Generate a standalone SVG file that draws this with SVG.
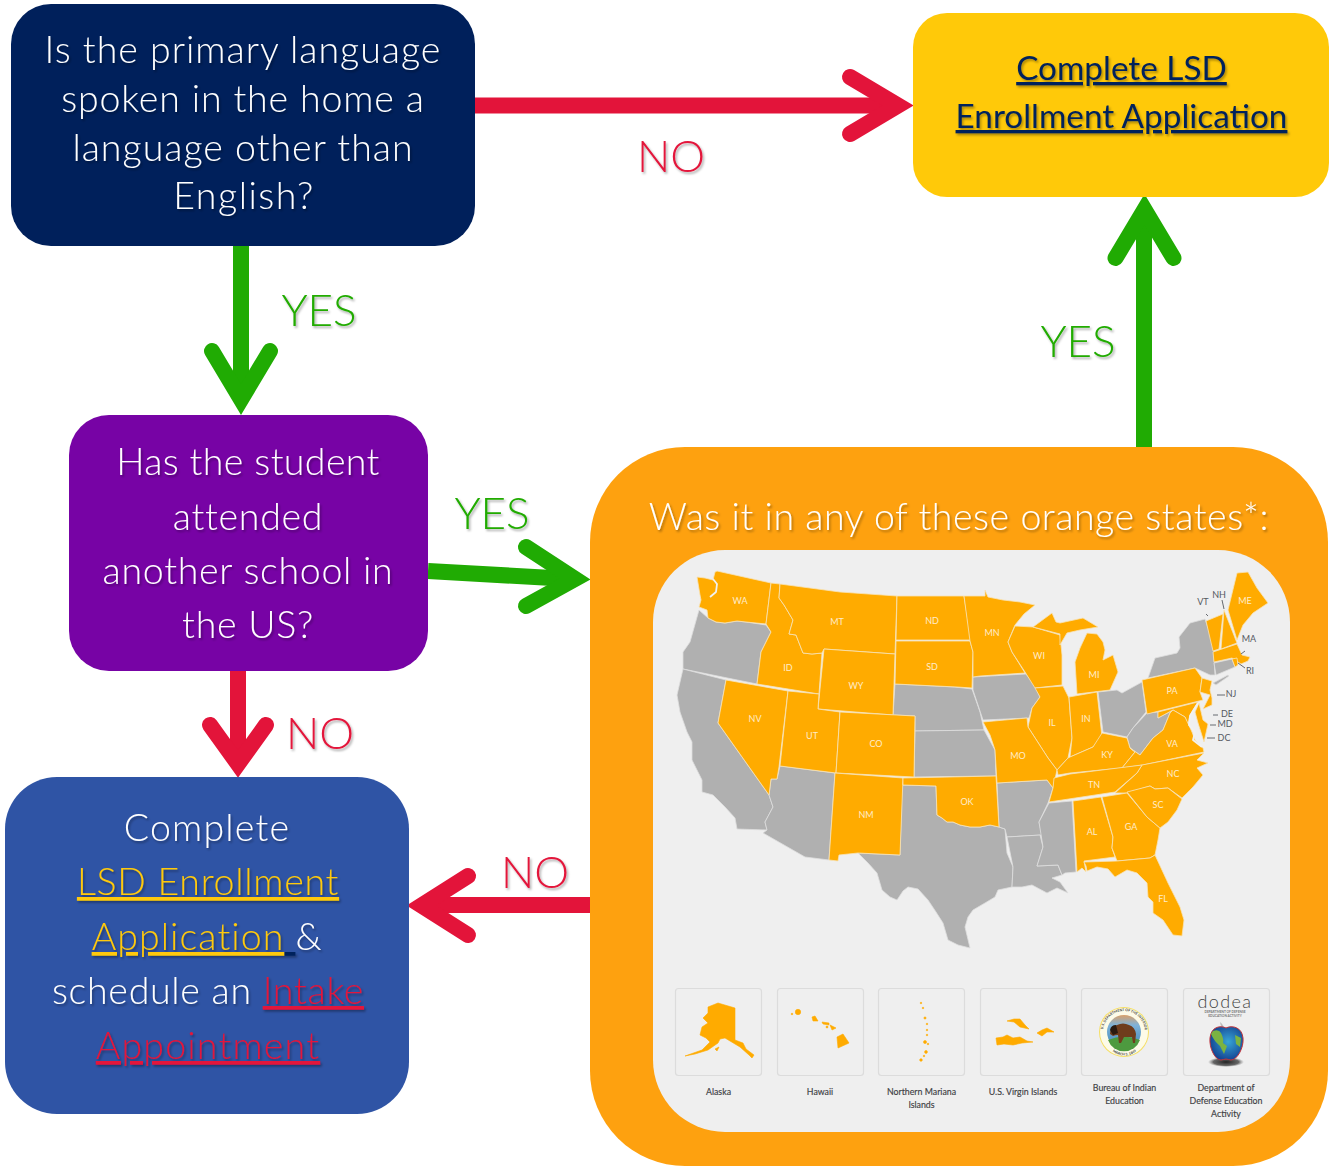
<svg xmlns="http://www.w3.org/2000/svg" xmlns:xlink="http://www.w3.org/1999/xlink" width="1331" height="1166" viewBox="0 0 1331 1166">
<style>
text{font-family:"Lato","Noto Sans",sans-serif}
.t{font-weight:300;text-anchor:middle;fill:#fff;font-size:37.500px;letter-spacing:.72px;filter:url(#ts)}
.n{letter-spacing:1px}
.w{letter-spacing:.54px}
.lab{font-weight:300;text-anchor:middle;font-size:44px;filter:url(#ts)}
.a{fill:#ffc909;text-decoration:underline}
.e{fill:#e3143a;text-decoration:underline}
.d{fill:#00205b;text-decoration:underline}
.u{font-size:33.300px;text-anchor:middle;fill:#00205b;text-decoration:underline;filter:url(#ts)}
.g{fill:#20ab03}.r{fill:#e3143a}
.ln{fill:none;stroke-width:16}
.hd{fill:none;stroke-width:16;stroke-linecap:round;stroke-linejoin:miter}
.gs{stroke:#20ab03}.rs{stroke:#e3143a}
.o{fill:#ffab00;stroke:#f7e3b8;stroke-width:.8;stroke-linejoin:round}
.y{fill:#b0b0b0;stroke:#dedede;stroke-width:.8;stroke-linejoin:round}
.f{fill:#ffab00;stroke:#ffab00;stroke-width:.6;stroke-linejoin:round}
.s{font-size:9px;font-weight:400;fill:#ffeccb;text-anchor:middle}
.x{font-size:9px;font-weight:400;fill:#55595f;text-anchor:middle}
.c{font-size:8.800px;font-weight:400;fill:#3e4144;text-anchor:middle;stroke:#3e4144;stroke-width:.15}
.b{fill:none;stroke:#dcdcdc;stroke-width:1.2}
.tick{stroke:#666a70;stroke-width:1;fill:none}
.bay{fill:none;stroke:#f1f1f1;stroke-width:1.800;stroke-linejoin:round}
</style>
<defs>
<filter id="ts" x="-5%" y="-20%" width="110%" height="140%"><feDropShadow dx="1.500" dy="2" stdDeviation="1.200" flood-color="#000" flood-opacity=".32"/></filter>
<path id="ringT" d="M1103 1032a21 21 0 0 1 42 0"/>
<path id="ringB" d="M1105 1036a19.500 19.500 0 0 0 39 0"/>
<linearGradient id="sky" x1="0" y1="0" x2="0" y2="1"><stop offset="0" stop-color="#d9a06a"/><stop offset=".3" stop-color="#7fb2d8"/><stop offset="1" stop-color="#3b86b8"/></linearGradient>
<radialGradient id="gl" cx=".55" cy=".45" r=".6"><stop offset="0" stop-color="#37a5d6"/><stop offset="1" stop-color="#123f8f"/></radialGradient>
<radialGradient id="sh" cx=".5" cy=".5" r=".5"><stop offset="0" stop-color="#222"/><stop offset=".7" stop-color="#444" stop-opacity=".8"/><stop offset="1" stop-color="#777" stop-opacity="0"/></radialGradient>
</defs>

<g id="connectors">
<path class="ln rs" d="M475 105.500H895"/><path class="hd rs" d="M850 77L898 105.500L850 134"/>
<path class="ln gs" d="M241 246V395"/><path class="hd gs" d="M212 351L241 399.500L270 351"/>
<path class="ln gs" d="M1144 447V213"/><path class="hd gs" d="M1115.500 258L1144.500 209.500L1173.500 258"/>
<path class="ln gs" d="M428 571L570 579"/><path class="hd gs" d="M526 547L575 579L526 606"/>
<path class="ln rs" d="M238 671V760"/><path class="hd rs" d="M210 725L238 764L266 725"/>
<path class="ln rs" d="M590 905H426"/><path class="hd rs" d="M468 876L421.500 905.500L468 935"/>
</g>

<g id="node-language">
<rect x="11" y="4" width="464" height="242" rx="40" fill="#00205b"/>
<text class="t n" x="243" y="63">Is the primary language</text>
<text class="t" x="243" y="112" style="letter-spacing:.85px">spoken in the home a</text>
<text class="t n" x="243" y="161">language other than</text>
<text class="t" x="244" y="209" style="letter-spacing:1.500px">English?</text>
</g>

<g id="node-application">
<rect x="913" y="13" width="416" height="184" rx="34" fill="#ffc909"/>
<text class="u" x="1121.500" y="80">Complete LSD</text>
<text class="u" x="1121.500" y="128">Enrollment Application</text>
</g>

<g id="node-attended">
<rect x="69" y="415" width="359" height="256" rx="40" fill="#7703a5"/>
<text class="t" x="248" y="475" style="letter-spacing:.38px">Has the student</text>
<text class="t" x="248" y="530">attended</text>
<text class="t" x="248" y="584">another school in</text>
<text class="t" x="248" y="638">the US?</text>
</g>

<g id="node-complete">
<rect x="5" y="777" width="404" height="337" rx="52" fill="#2f54a5"/>
<text class="t" x="207" y="841" style="letter-spacing:1.200px">Complete</text>
<text class="t" x="208" y="895"><tspan class="a">LSD Enrollment</tspan></text>
<text class="t" x="207" y="950"><tspan class="a" style="letter-spacing:1.100px">Application</tspan><tspan class="d"> </tspan>&amp;</text>
<text class="t" x="208" y="1004">schedule an <tspan class="e">Intake</tspan></text>
<text class="t" x="208" y="1059" style="letter-spacing:1.200px"><tspan class="e">Appointment</tspan></text>
</g>

<g id="node-states">
<rect x="590" y="447" width="738" height="719" rx="95" fill="#fea10f"/>
<rect x="653" y="550" width="637" height="582" rx="72" fill="#efefef"/>
<text class="t w" x="959" y="530">Was it in any of these orange states*:</text>

<g id="map">
<polygon class="y" points="699,610 708,618 716,622 725,623 737,621 746,622 766,625 771,632 761,652 757,684 683,669 683,652 690,642"/>
<polygon class="y" points="683,669 726,680 718,723 769,795 773,807 765,822 767,830 737,829 735,818 725,807 713,795 702,792 702,780 692,760 692,742 687,732 680,712 677,695"/>
<polygon class="y" points="780,766 835,773 829,860 805,857 763,833 767,830 765,822 773,807 769,795 771,779 777,779"/>
<polygon class="y" points="902,785 936,786 937,815 942,818 947,822 953,822 960,825 970,827 980,827 990,825 999,827 1005,829 1007,853 1013,867 1012,887 998,890 995,897 985,903 973,910 968,917 965,927 970,948 958,945 948,940 943,923 936,912 928,900 918,889 908,887 903,891 897,900 890,897 882,890 877,873 868,863 858,853 900,855"/>
<polygon class="y" points="895,684 955,687 972,689 980,712 984,730 915,731 915,716 893,715"/>
<polygon class="y" points="915,731 984,730 995,750 996,776 914,777"/>
<polygon class="y" points="973,677 1026,674 1036,687 1040,697 1032,708 1029,718 983,720 973,690"/>
<polygon class="y" points="997,783 1047,780 1053,788 1048,803 1039,822 1042,835 1007,837 1005,829 999,827"/>
<polygon class="y" points="1007,837 1040,835 1043,847 1037,866 1058,865 1062,875 1052,878 1060,882 1068,893 1057,888 1047,893 1032,885 1022,887 1012,887 1013,867"/>
<polygon class="y" points="1049,803 1072,801 1076,872 1065,873 1062,875 1058,865 1037,866 1043,847 1039,822"/>
<polygon class="y" points="1098,692 1117,690 1122,693 1142,682 1146,712 1133,728 1127,737 1103,732"/>
<polygon class="y" points="1147,713 1158,712 1158,718 1173,710 1170,713 1163,730 1153,738 1140,755 1130,748 1127,737 1133,728"/>
<polygon class="y" points="1190,623 1205,619 1213,642 1215,675 1210,675 1195,668 1148,678 1155,658 1177,653 1180,648 1179,637"/>
<polygon class="y" points="1214,663 1232,659 1235,667 1216,675"/>
<polygon class="y" points="1213,683 1228,675 1229,676 1216,685"/>

<polygon class="o" points="697,577 705,578 713,580 715,572 717,571 771,583 766,624 746,622 737,621 725,623 716,622 708,618 707,610 699,607 701,600 700,595"/>
<polygon class="o" points="771,583 780,584 779,598 784,605 793,620 789,634 796,635 803,653 812,654 822,653 819,694 757,684 761,652 771,632 766,624"/>
<polygon class="o" points="780,584 840,592 897,596 895,654 824,649 822,653 812,654 803,653 796,635 789,634 793,620 784,605 779,598"/>
<polygon class="o" points="897,596 964,596 971,640 896,640"/>
<polygon class="o" points="896,641 970,641 973,652 972,688 957,687 895,684"/>
<polygon class="o" points="824,649 895,654 893,715 818,709"/>
<polygon class="o" points="726,680 788,691 781,750 779,767 777,779 771,779 769,795 718,723"/>
<polygon class="o" points="788,691 819,694 818,709 840,712 836,773 780,766"/>
<polygon class="o" points="840,712 915,716 914,777 836,773"/>
<polygon class="o" points="835,773 903,778 900,855 858,853 839,855 838,861 829,860"/>
<polygon class="o" points="903,778 996,776 999,827 990,825 980,827 970,827 960,825 953,822 947,822 942,818 937,815 936,786 903,785"/>
<polygon class="o" points="964,596 985,596 985,590 988,597 1003,600 1020,602 1035,605 1024,614 1015,625 1008,642 1012,652 1025,673 980,676 973,677 973,652 970,641"/>
<polygon class="o" points="1015,626 1033,627 1060,635 1062,655 1062,685 1035,688 1025,672 1012,652 1008,642"/>
<polygon class="o" points="1033,627 1052,613 1056,622 1060,623 1083,618 1098,627 1080,630 1067,633 1060,645 1060,634"/>
<polygon class="o" points="1087,633 1097,634 1103,642 1105,650 1103,660 1113,655 1118,672 1110,690 1077,694 1075,662 1080,648"/>
<polygon class="o" points="1035,688 1063,686 1069,698 1072,738 1068,758 1057,770 1048,758 1028,727 1032,708 1040,697"/>
<polygon class="o" points="1069,697 1097,692 1102,737 1093,747 1070,757 1072,738"/>
<polygon class="o" points="983,722 1027,718 1028,727 1048,758 1057,770 1053,788 1047,780 997,783 995,750 990,735"/>
<polygon class="o" points="1102,733 1127,738 1130,748 1135,752 1122,768 1070,773 1058,775 1057,770 1068,758 1070,757 1093,747"/>
<polygon class="o" points="1142,680 1195,668 1202,678 1200,692 1203,700 1147,714"/>
<polygon class="o" points="1202,678 1212,681 1210,690 1212,698 1212,705 1203,709 1210,695 1200,692"/>
<polygon class="o" points="1206,621 1223,614 1219,649 1213,651"/>
<polygon class="o" points="1224,610 1237,643 1221,649"/>
<polygon class="o" points="1237,573 1248,572 1257,588 1268,603 1253,613 1243,625 1237,640 1228,610"/>
<polygon class="o" points="1213,652 1237,644 1242,655 1250,657 1248,661 1241,664 1232,658 1214,662"/>
<polygon class="o" points="1232,659 1237,658 1238,665 1235,667"/>
<polygon class="o" points="1158,712 1198,702 1193,710 1190,715 1188,725 1185,717 1173,710 1158,718"/>
<polygon class="o" points="1199,703 1203,720 1208,724 1204,742 1198,723 1195,712"/>
<polygon class="o" points="1173,710 1185,717 1192,732 1195,740 1203,748 1204,752 1143,765 1122,768 1135,752 1130,748 1140,755 1153,738 1163,730 1170,713"/>
<polygon class="o" points="1204,753 1197,760 1208,763 1197,768 1203,775 1193,787 1182,798 1168,788 1155,789 1150,786 1127,793 1115,793 1137,773 1142,765"/>
<polygon class="o" points="1054,778 1070,774 1142,765 1137,773 1115,792 1049,802 1053,788"/>
<polygon class="o" points="1073,801 1101,797 1113,837 1112,848 1115,857 1084,861 1086,872 1082,868 1077,872"/>
<polygon class="o" points="1102,797 1127,793 1147,817 1160,828 1158,840 1155,855 1150,858 1117,861 1112,848 1113,837"/>
<polygon class="o" points="1127,792 1150,786 1155,789 1168,788 1182,799 1177,810 1168,822 1160,828 1147,817"/>
<polygon class="o" points="1084,862 1117,861 1150,858 1155,855 1168,883 1180,907 1184,920 1182,936 1173,935 1163,920 1153,913 1153,902 1148,897 1147,883 1137,873 1127,870 1115,877 1108,869 1097,867 1087,871 1086,866"/>
<path class="bay" d="M713 579L717 584L716 592L710 597M1198 703L1193 711L1190 716L1189 725L1195 732L1193 740L1202 747"/>
</g>

<path class="tick" d="M1206 614L1208 616M1222 600L1224 609M1245 651L1241 654M1245 668L1238 663M1217 695H1225M1213 715H1218M1210 725H1216M1207 738H1215"/>
<text class="s" x="740" y="604">WA</text><text class="s" x="837" y="625">MT</text><text class="s" x="932" y="624">ND</text><text class="s" x="932" y="670">SD</text>
<text class="s" x="788" y="671">ID</text><text class="s" x="856" y="689">WY</text><text class="s" x="755" y="722">NV</text><text class="s" x="812" y="739">UT</text>
<text class="s" x="876" y="747">CO</text><text class="s" x="866" y="818">NM</text><text class="s" x="967" y="805">OK</text><text class="s" x="992" y="636">MN</text>
<text class="s" x="1039" y="659">WI</text><text class="s" x="1094" y="678">MI</text><text class="s" x="1052" y="726">IL</text><text class="s" x="1086" y="722">IN</text>
<text class="s" x="1018" y="759">MO</text><text class="s" x="1107" y="758">KY</text><text class="s" x="1172" y="694">PA</text><text class="s" x="1172" y="747">VA</text>
<text class="s" x="1173" y="777">NC</text><text class="s" x="1094" y="788">TN</text><text class="s" x="1158" y="808">SC</text><text class="s" x="1131" y="830">GA</text>
<text class="s" x="1092" y="835">AL</text><text class="s" x="1163" y="902">FL</text><text class="s" x="1245" y="604">ME</text>
<text class="x" x="1203" y="605">VT</text><text class="x" x="1219" y="598">NH</text><text class="x" x="1249" y="642">MA</text><text class="x" x="1250" y="674">RI</text>
<text class="x" x="1231" y="697">NJ</text><text class="x" x="1227" y="717">DE</text><text class="x" x="1225" y="727">MD</text><text class="x" x="1224" y="741">DC</text>

<g id="insets">
<rect class="b" x="675.500" y="988.500" width="86" height="87" rx="3"/>
<rect class="b" x="777.500" y="988.500" width="86" height="87" rx="3"/>
<rect class="b" x="878.500" y="988.500" width="86" height="87" rx="3"/>
<rect class="b" x="980.500" y="988.500" width="86" height="87" rx="3"/>
<rect class="b" x="1081.500" y="988.500" width="86" height="87" rx="3"/>
<rect class="b" x="1183.500" y="988.500" width="86" height="87" rx="3"/>
<polygon class="f" points="708,1007 718,1003 735,1008 735,1040 743,1043 746,1049 754,1055 752,1058 749,1055 740,1047 725,1038 720,1039 718,1043 708,1050 695,1054 685,1056 702,1050 710,1042 706,1038 700,1035 702,1027 708,1023 703,1018 708,1013"/>
<polygon class="f" points="715,1049 719,1047 717,1051"/>
<polygon class="f" points="837,1037 843,1034 849,1043 838,1048"/>
<polygon class="f" points="830,1025 836,1028 832,1030"/>
<polygon class="f" points="812,1017 815,1016 818,1021 813,1021"/>
<polygon class="f" points="822,1022 829,1023 829,1025 823,1024"/>
<circle class="f" cx="798" cy="1012" r="2.700"/><circle class="f" cx="792" cy="1014" r=".8"/><circle class="f" cx="827" cy="1027" r="1"/>
<g class="f"><circle cx="921" cy="1003" r=".8"/><circle cx="923" cy="1008" r=".8"/><circle cx="925" cy="1018" r="1.100"/><circle cx="927" cy="1024" r=".8"/><circle cx="927" cy="1030" r=".8"/><circle cx="927" cy="1035" r=".8"/><circle cx="925" cy="1042" r="1.500"/><circle cx="928" cy="1044" r=".8"/><circle cx="926" cy="1052" r="1.400"/><circle cx="924" cy="1056" r=".8"/><circle cx="921" cy="1060" r="1.300"/></g>
<polygon class="f" points="996,1038 1003,1037 1007,1035 1013,1038 1020,1037 1027,1041 1033,1042 1022,1043 1013,1045 1004,1044 997,1045"/>
<polygon class="f" points="1007,1021 1014,1019 1020,1019 1025,1025 1029,1029 1020,1027 1014,1022"/>
<polygon class="f" points="1037,1033 1042,1030 1047,1028 1054,1032 1047,1032 1042,1036"/>

<g id="seal">
<circle cx="1124" cy="1032" r="25" fill="#f6df63"/>
<circle cx="1124" cy="1032" r="24" fill="#fdfbe8"/>
<circle cx="1124" cy="1032" r="17" fill="url(#sky)"/>
<path d="M1108 1040q16-7 32 0a17 17 0 0 1-32 0z" fill="#4d9a3f"/>
<path d="M1110 1034q0-7 7-9q6-3 12 0q6 2 7 9l-1 9h-2l-1-6h-8l-3 6h-2l-1-8q-3 0-5 1z" fill="#6f3c1c"/>
<path d="M1110 1030q1-5 6-5l2 8l-5 2z" fill="#2b1a10"/>
<text font-size="3.500" font-weight="700" fill="#444"><textPath xlink:href="#ringT" startOffset="4%">U.S. DEPARTMENT OF THE INTERIOR</textPath></text>
<text font-size="3.500" font-weight="700" fill="#444" text-anchor="middle"><textPath xlink:href="#ringB" startOffset="50%">MARCH 3, 1849</textPath></text>
</g>
<g id="dodea">
<text x="1225" y="1008" font-size="18" font-weight="300" letter-spacing="1.400" fill="#444" text-anchor="middle">dodea</text>
<text x="1225" y="1013" font-size="3.200" font-weight="700" fill="#777" text-anchor="middle">DEPARTMENT OF DEFENSE</text>
<text x="1225" y="1017" font-size="3.200" font-weight="700" fill="#777" text-anchor="middle">EDUCATION ACTIVITY</text>
<ellipse cx="1226" cy="1062" rx="18" ry="5" fill="url(#sh)"/>
<path d="M1220 1022q3 2 5 8q-4-1-5-8z" fill="#bbb"/>
<path d="M1226 1028c6-3 16-1 17 10c1 10-6 22-12 22c-2 0-3-1-5-1c-2 0-3 1-5 1c-6 0-12-12-11-22c1-11 10-13 16-10z" fill="url(#gl)" stroke="#c2323a" stroke-width="1"/>
<path d="M1213 1031q6-2 8 2q3 6 2 10l4 3l-3 8l-4-8q-6-5-9-12z" fill="#7bb342"/>
<path d="M1235 1035l6 3l-1 9l-4-3z" fill="#7bb342"/>
</g>
<text class="c" x="718.500" y="1095">Alaska</text>
<text class="c" x="820" y="1095">Hawaii</text>
<text class="c" x="921.500" y="1095">Northern Mariana</text><text class="c" x="921.500" y="1107.500">Islands</text>
<text class="c" x="1023" y="1095">U.S. Virgin Islands</text>
<text class="c" x="1124.500" y="1091">Bureau of Indian</text><text class="c" x="1124.500" y="1104">Education</text>
<text class="c" x="1226" y="1091">Department of</text><text class="c" x="1226" y="1104">Defense Education</text><text class="c" x="1226" y="1117">Activity</text>
</g>
</g>

<g id="labels">
<text class="lab r" x="671" y="172">NO</text>
<text class="lab g" x="319" y="326">YES</text>
<text class="lab g" x="1078" y="357">YES</text>
<text class="lab g" x="492" y="529">YES</text>
<text class="lab r" x="320" y="749">NO</text>
<text class="lab r" x="535" y="888">NO</text>
</g>
</svg>
